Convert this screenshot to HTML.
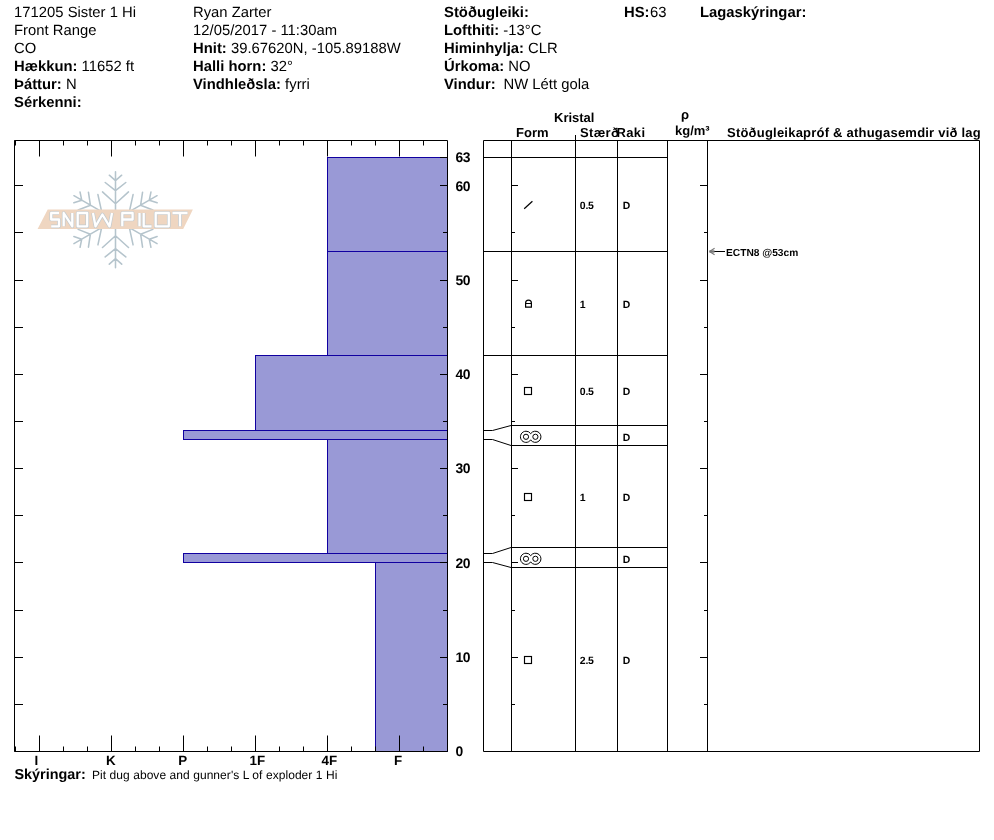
<!DOCTYPE html><html><head><meta charset="utf-8"><style>html,body{margin:0;padding:0;background:#fff;width:994px;height:840px;overflow:hidden}svg{display:block;will-change:transform}text{font-family:"Liberation Sans",sans-serif;fill:#000;text-rendering:geometricPrecision}.h{letter-spacing:0.02px}.b{font-weight:bold}</style></head><body>
<svg width="994" height="840" viewBox="0 0 994 840">
<g class="h">
<text x="14" y="17" font-size="14.8">171205 Sister 1 Hi</text>
<text x="14" y="35" font-size="14.8">Front Range</text>
<text x="14" y="53" font-size="14.8">CO</text>
<text x="14" y="71" font-size="14.8"><tspan class="b">Hækkun:</tspan> 11652 ft</text>
<text x="14" y="89" font-size="14.8"><tspan class="b">Þáttur:</tspan>  N</text>
<text x="14" y="107" font-size="14.8" class="b">Sérkenni:</text>
<text x="193" y="17" font-size="14.8">Ryan Zarter</text>
<text x="193" y="35" font-size="14.8">12/05/2017 - 11:30am</text>
<text x="193" y="53" font-size="14.8"><tspan class="b">Hnit:</tspan> 39.67620N, -105.89188W</text>
<text x="193" y="71" font-size="14.8"><tspan class="b">Halli horn:</tspan> 32°</text>
<text x="193" y="89" font-size="14.8"><tspan class="b">Vindhleðsla:</tspan> fyrri</text>
<text x="444" y="17" font-size="14.8" class="b">Stöðugleiki:</text>
<text x="444" y="35" font-size="14.8"><tspan class="b">Lofthiti:</tspan> -13°C</text>
<text x="444" y="53" font-size="14.8"><tspan class="b">Himinhylja:</tspan> CLR</text>
<text x="444" y="71" font-size="14.8"><tspan class="b">Úrkoma:</tspan> NO</text>
<text x="444" y="89" font-size="14.8"><tspan class="b">Vindur:</tspan> <tspan x="503.5">NW Létt gola</tspan></text>
<text x="624" y="17" font-size="14.8"><tspan class="b">HS:</tspan><tspan x="650">63</tspan></text>
<text x="700" y="17" font-size="14.8" class="b">Lagaskýringar:</text>
</g>
<g transform="translate(115.5,219.7)" stroke="#b5c4cc" stroke-width="1.55" stroke-linecap="round" fill="none">
<path transform="rotate(0)" d="M0,0L0,-48M0,-16L-13,-27.8M0,-16L13,-27.8M0,-29L-10.3,-37.2M0,-29L10.3,-37.2M0,-39L-6.2,-44.5M0,-39L6.2,-44.5"/>
<path transform="rotate(60)" d="M0,0L0,-48M0,-16L-13,-27.8M0,-16L13,-27.8M0,-29L-10.3,-37.2M0,-29L10.3,-37.2M0,-39L-6.2,-44.5M0,-39L6.2,-44.5"/>
<path transform="rotate(120)" d="M0,0L0,-48M0,-16L-13,-27.8M0,-16L13,-27.8M0,-29L-10.3,-37.2M0,-29L10.3,-37.2M0,-39L-6.2,-44.5M0,-39L6.2,-44.5"/>
<path transform="rotate(180)" d="M0,0L0,-48M0,-16L-13,-27.8M0,-16L13,-27.8M0,-29L-10.3,-37.2M0,-29L10.3,-37.2M0,-39L-6.2,-44.5M0,-39L6.2,-44.5"/>
<path transform="rotate(240)" d="M0,0L0,-48M0,-16L-13,-27.8M0,-16L13,-27.8M0,-29L-10.3,-37.2M0,-29L10.3,-37.2M0,-39L-6.2,-44.5M0,-39L6.2,-44.5"/>
<path transform="rotate(300)" d="M0,0L0,-48M0,-16L-13,-27.8M0,-16L13,-27.8M0,-29L-10.3,-37.2M0,-29L10.3,-37.2M0,-39L-6.2,-44.5M0,-39L6.2,-44.5"/>
</g>
<polygon points="47.7,209.6 192.9,209.6 183.2,228.9 37.6,228.9" fill="#efd6c1"/>
<path d="M59,213H51.2V219.5H59V226.3H51.2M63.7,226.3V213L72.3,226.3V213M77.7,213H87.2V226.3H77.7ZM93,213L95.5,226.3L102.4,214.5L109.5,226.3L112,213M122.3,226.3V213H132.6V219.5H122.3M139.5,213V226.3M143.7,213V226.3H151.5M155.7,213H168.8V226.3H155.7ZM172.5,213H187.5M180,213V226.3" fill="none" stroke="#c3cbd0" stroke-width="3.7" stroke-linejoin="round"/>
<path d="M59,213H51.2V219.5H59V226.3H51.2M63.7,226.3V213L72.3,226.3V213M77.7,213H87.2V226.3H77.7ZM93,213L95.5,226.3L102.4,214.5L109.5,226.3L112,213M122.3,226.3V213H132.6V219.5H122.3M139.5,213V226.3M143.7,213V226.3H151.5M155.7,213H168.8V226.3H155.7ZM172.5,213H187.5M180,213V226.3" fill="none" stroke="#ffffff" stroke-width="2.3" stroke-linejoin="round"/>
<rect x="327.5" y="157.5" width="120" height="94" fill="#9999d6" stroke="#1000a0" stroke-width="1"/>
<rect x="327.5" y="251.5" width="120" height="104" fill="#9999d6" stroke="#1000a0" stroke-width="1"/>
<rect x="255.5" y="355.5" width="192" height="75" fill="#9999d6" stroke="#1000a0" stroke-width="1"/>
<rect x="183.5" y="430.5" width="264" height="9" fill="#9999d6" stroke="#1000a0" stroke-width="1"/>
<rect x="327.5" y="439.5" width="120" height="114" fill="#9999d6" stroke="#1000a0" stroke-width="1"/>
<rect x="183.5" y="553.5" width="264" height="9" fill="#9999d6" stroke="#1000a0" stroke-width="1"/>
<rect x="375.5" y="562.5" width="72" height="189" fill="#9999d6" stroke="#1000a0" stroke-width="1"/>
<path d="M14.5,140.5H447.5V751.5H14.5Z" fill="none" stroke="#000" stroke-width="1"/>
<path d="M39.5,140.5v16M39.5,751.5v-16M63.5,140.5v5M63.5,751.5v-5M87.5,140.5v5M87.5,751.5v-5M111.5,140.5v16M111.5,751.5v-16M135.5,140.5v5M135.5,751.5v-5M159.5,140.5v5M159.5,751.5v-5M183.5,140.5v16M183.5,751.5v-16M207.5,140.5v5M207.5,751.5v-5M231.5,140.5v5M231.5,751.5v-5M255.5,140.5v16M255.5,751.5v-16M279.5,140.5v5M279.5,751.5v-5M303.5,140.5v5M303.5,751.5v-5M327.5,140.5v16M327.5,751.5v-16M351.5,140.5v5M351.5,751.5v-5M375.5,140.5v5M375.5,751.5v-5M399.5,140.5v16M399.5,751.5v-16M423.5,140.5v5M423.5,751.5v-5M14,704.5h9M447,704.5h-4M14,657.5h9M447,657.5h-7M14,610.5h9M447,610.5h-4M14,562.5h9M447,562.5h-7M14,515.5h9M447,515.5h-4M14,468.5h9M447,468.5h-7M14,421.5h9M447,421.5h-4M14,374.5h9M447,374.5h-7M14,327.5h9M447,327.5h-4M14,280.5h9M447,280.5h-7M14,232.5h9M447,232.5h-4M14,185.5h9M447,185.5h-7M447,157.5h-7" stroke="#000" stroke-width="1" fill="none"/>
<path d="M14.5,140.5v5M15.5,140.5v5M14.5,751.5v-5M15.5,751.5v-5" stroke="#000" stroke-width="1"/>
<text x="455.5" y="162.2" font-size="13.9" class="b" letter-spacing="-0.5">63</text>
<text x="455.5" y="190.5" font-size="13.9" class="b" letter-spacing="-0.5">60</text>
<text x="455.5" y="284.8" font-size="13.9" class="b" letter-spacing="-0.5">50</text>
<text x="455.5" y="379.1" font-size="13.9" class="b" letter-spacing="-0.5">40</text>
<text x="455.5" y="473.3" font-size="13.9" class="b" letter-spacing="-0.5">30</text>
<text x="455.5" y="567.6" font-size="13.9" class="b" letter-spacing="-0.5">20</text>
<text x="455.5" y="661.9" font-size="13.9" class="b" letter-spacing="-0.5">10</text>
<text x="455.5" y="756.2" font-size="13.9" class="b" letter-spacing="-0.5">0</text>
<text x="36.3" y="765" font-size="13.4" class="b" text-anchor="middle">I</text>
<text x="110.9" y="765" font-size="13.4" class="b" text-anchor="middle">K</text>
<text x="182.6" y="765" font-size="13.4" class="b" text-anchor="middle">P</text>
<text x="257.3" y="765" font-size="13.4" class="b" text-anchor="middle">1F</text>
<text x="329.3" y="765" font-size="13.4" class="b" text-anchor="middle">4F</text>
<text x="398" y="765" font-size="13.4" class="b" text-anchor="middle">F</text>
<text x="14.5" y="778.6" font-size="14.4" class="b">Skýringar:</text>
<text x="92" y="778.6" font-size="12" letter-spacing="0.06">Pit dug above and gunner's L of exploder 1 Hi</text>
<path d="M483.5,140.5H979.5V751.5H483.5ZM511.5,140V751M617.5,140V751M667.5,140V751M707.5,140V751M575.5,135V751M483,157.5H667M483,251.5H667M483,355.5H667M483,430.5H492.5L511,425.5H667M483,439.5H492.5L511,445.5H667M483,553.5H492.5L511,547.5H667M483,562.5H492.5L511,567.5H667M511,704.5h4M707,704.5h-3M511,657.5h7M707,657.5h-7M511,610.5h4M707,610.5h-3M511,562.5h7M707,562.5h-7M511,515.5h4M707,515.5h-3M511,468.5h7M707,468.5h-7M511,421.5h4M707,421.5h-3M511,374.5h7M707,374.5h-7M511,327.5h4M707,327.5h-3M511,280.5h7M707,280.5h-7M511,232.5h4M707,232.5h-3M511,185.5h7M707,185.5h-7" stroke="#000" stroke-width="1" fill="none"/>
<text x="554" y="122" font-size="13" class="b">Kristal</text>
<text x="516" y="136.7" font-size="13" class="b">Form</text>
<text x="580" y="136.7" font-size="13" class="b" letter-spacing="0.35">Stærð</text>
<text x="616.5" y="136.7" font-size="13" class="b" letter-spacing="0.35">Raki</text>
<text x="681" y="118.5" font-size="13" class="b">ρ</text>
<text x="675" y="135.4" font-size="13" class="b">kg/m³</text>
<text x="727" y="137" font-size="13" class="b" letter-spacing="0.22">Stöðugleikapróf &amp; athugasemdir við lag</text>
<path d="M714,251.5H725" stroke="#000" stroke-width="1"/>
<path d="M709.5,251.5H714.5" stroke="#7a7a7a" stroke-width="2.4"/><path d="M709.5,251.5L714.6,248.2M709.5,251.5L714.6,254.8" stroke="#7a7a7a" stroke-width="1.1"/>
<text x="726" y="255.6" font-size="10.2" class="b">ECTN8 @53cm</text>
<text x="579.8" y="208.7" font-size="10.5" class="b" letter-spacing="-0.25">0.5</text>
<text x="622.8" y="208.7" font-size="10.4" class="b">D</text>
<path d="M524.2,208.7L532.4,201.2" stroke="#000" stroke-width="1.2"/>
<text x="579.8" y="307.7" font-size="10.5" class="b" letter-spacing="-0.25">1</text>
<text x="622.8" y="307.7" font-size="10.4" class="b">D</text>
<path d="M525.6,307.2V303.0Q525.6,300.1 528.5,300.1Q531.4,300.1 531.4,303.0V307.2ZM525.6,303.5H531.4" fill="none" stroke="#000" stroke-width="1.2"/>
<text x="579.8" y="395.1" font-size="10.5" class="b" letter-spacing="-0.25">0.5</text>
<text x="622.8" y="395.1" font-size="10.4" class="b">D</text>
<rect x="524.5" y="387.5" width="7" height="7" fill="none" stroke="#000" stroke-width="1.15"/>
<text x="622.8" y="440.7" font-size="10.4" class="b">D</text>
<g fill="none" stroke="#000" stroke-width="1"><path d="M526,431.2A5.6,5.6 0 1 0 530.7,439.9A5.6,5.6 0 1 0 530.7,433.7A5.6,5.6 0 0 0 526,431.2Z"/><circle cx="526" cy="436.8" r="2.6"/><circle cx="535.4" cy="436.8" r="2.6"/></g>
<text x="579.8" y="500.9" font-size="10.5" class="b" letter-spacing="-0.25">1</text>
<text x="622.8" y="500.9" font-size="10.4" class="b">D</text>
<rect x="524.5" y="493.5" width="7" height="7" fill="none" stroke="#000" stroke-width="1.15"/>
<text x="622.8" y="562.7" font-size="10.4" class="b">D</text>
<g fill="none" stroke="#000" stroke-width="1"><path d="M526,553.2A5.6,5.6 0 1 0 530.7,561.9A5.6,5.6 0 1 0 530.7,555.7A5.6,5.6 0 0 0 526,553.2Z"/><circle cx="526" cy="558.8" r="2.6"/><circle cx="535.4" cy="558.8" r="2.6"/></g>
<text x="579.8" y="664.1" font-size="10.5" class="b" letter-spacing="-0.25">2.5</text>
<text x="622.8" y="664.1" font-size="10.4" class="b">D</text>
<rect x="524.5" y="656.5" width="7" height="7" fill="none" stroke="#000" stroke-width="1.15"/>
</svg></body></html>
